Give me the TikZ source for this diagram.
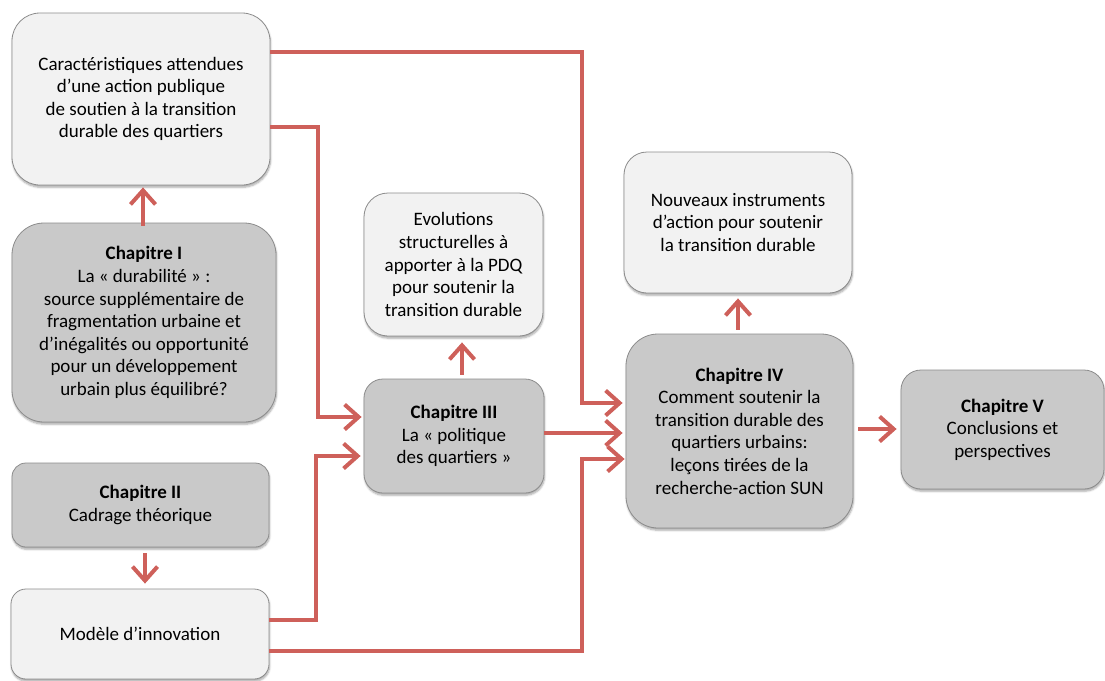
\documentclass[tikz,border=0pt]{standalone}
\usepackage{fontspec}
\setmainfont{Carlito}
\usetikzlibrary{arrows.meta,shadows.blur}
\definecolor{linkred}{RGB}{206,96,90}
\definecolor{lightfill}{RGB}{242,242,242}
\definecolor{darkfill}{RGB}{201,201,201}
\definecolor{boxline}{RGB}{140,140,140}
\begin{document}
\begin{tikzpicture}[x=1pt,y=-1pt,
  box/.style={draw=boxline, line width=0.8pt, align=center, inner sep=0pt,
    font=\fontsize{19}{22.6}\selectfont,
    blur shadow={shadow xshift=0.6pt, shadow yshift=-2.2pt,
      shadow blur steps=6, shadow opacity=35}},
  light/.style={box, fill=lightfill},
  dark/.style={box, fill=darkfill},
  link/.style={draw=linkred, line width=4pt,
    -{Straight Barb[length=14pt,width=25pt]}},
]
\useasboundingbox (0,0) rectangle (1105,680);

% left column
\node[light, minimum width=258pt, minimum height=172pt, rounded corners=28pt] (attendues) at (141,99)
  {Caractéristiques attendues\\ d’une action publique\\ de soutien à la transition\\ durable des quartiers};
\node[dark, minimum width=264pt, minimum height=199pt, rounded corners=32pt] (chI) at (144,322.5)
  {\textbf{Chapitre I}\\ La « durabilité » :\\ source supplémentaire de\\ fragmentation urbaine et\\ d’inégalités ou opportunité\\ pour un développement\\ urbain plus équilibré?};
\node[dark, minimum width=257pt, minimum height=84pt, rounded corners=14pt] (chII) at (140.5,505)
  {\textbf{Chapitre II}\\ Cadrage théorique};
\node[light, minimum width=258pt, minimum height=90pt, rounded corners=15pt] (model) at (140,634)
  {Modèle d’innovation};

% middle column
\node[light, minimum width=179pt, minimum height=143pt, rounded corners=24pt] (evol) at (453.5,264.5)
  {Evolutions\\ structurelles à\\ apporter à la PDQ\\ pour soutenir la\\ transition durable};
\node[dark, minimum width=180pt, minimum height=114pt, rounded corners=19pt] (chIII) at (454,436)
  {\textbf{Chapitre III}\\ La « politique\\ des quartiers »};

% right columns
\node[light, minimum width=228pt, minimum height=141pt, rounded corners=23pt] (instr) at (738,222.5)
  {Nouveaux instruments\\ d’action pour soutenir\\ la transition durable};
\node[dark, minimum width=227pt, minimum height=194pt, rounded corners=32pt] (chIV) at (739.5,431)
  {\textbf{Chapitre IV}\\ Comment soutenir la\\ transition durable des\\ quartiers urbains:\\ leçons tirées de la\\ recherche-action SUN};
\node[dark, minimum width=203pt, minimum height=119pt, rounded corners=20pt] (chV) at (1002.5,429.5)
  {\textbf{Chapitre V}\\ Conclusions et\\ perspectives};

% entry points on chapter boxes
\coordinate (ivTop) at ([yshift=28pt]chIV.west);
\coordinate (ivMid) at ([yshift=-2pt]chIV.west);
\coordinate (ivLow) at ([yshift=-28pt]chIV.west);

% long connectors
\draw[link, shorten >=3pt] ([yshift=47pt]attendues.east) -- ++(312,0) |- (ivTop);
\draw[link, shorten >=2pt] ([yshift=-28pt]attendues.east) -- ++(48,0) |- ([yshift=19pt]chIII.west);
\draw[link, shorten >=3pt] (ivMid -| chIII.east) -- (ivMid);
\draw[link, shorten >=3pt] ([yshift=14pt]model.east) -- ++(47,0) |- ([yshift=-20pt]chIII.west);
\draw[link, shorten >=1pt] ([yshift=-17pt]model.east) -- ++(313,0) |- (ivLow);

% short vertical and horizontal arrows
\draw[link, shorten <=-3pt, shorten >=2pt] ([xshift=-1pt]chI.north) -- ([xshift=2pt]attendues.south);
\draw[link, shorten <=6pt, shorten >=5pt] ([xshift=4.5pt]chII.south) -- ([xshift=5pt]model.north);
\draw[link, shorten <=4pt, shorten >=6pt] ([xshift=8pt]chIII.north) -- ([xshift=8.5pt]evol.south);
\draw[link, shorten <=4pt, shorten >=5pt] ([xshift=-1.5pt]chIV.north) -- (instr.south);
\draw[link, shorten <=5pt, shorten >=4pt] ([yshift=2pt]chIV.east) -- ([yshift=0.5pt]chV.west);
\end{tikzpicture}
\end{document}
